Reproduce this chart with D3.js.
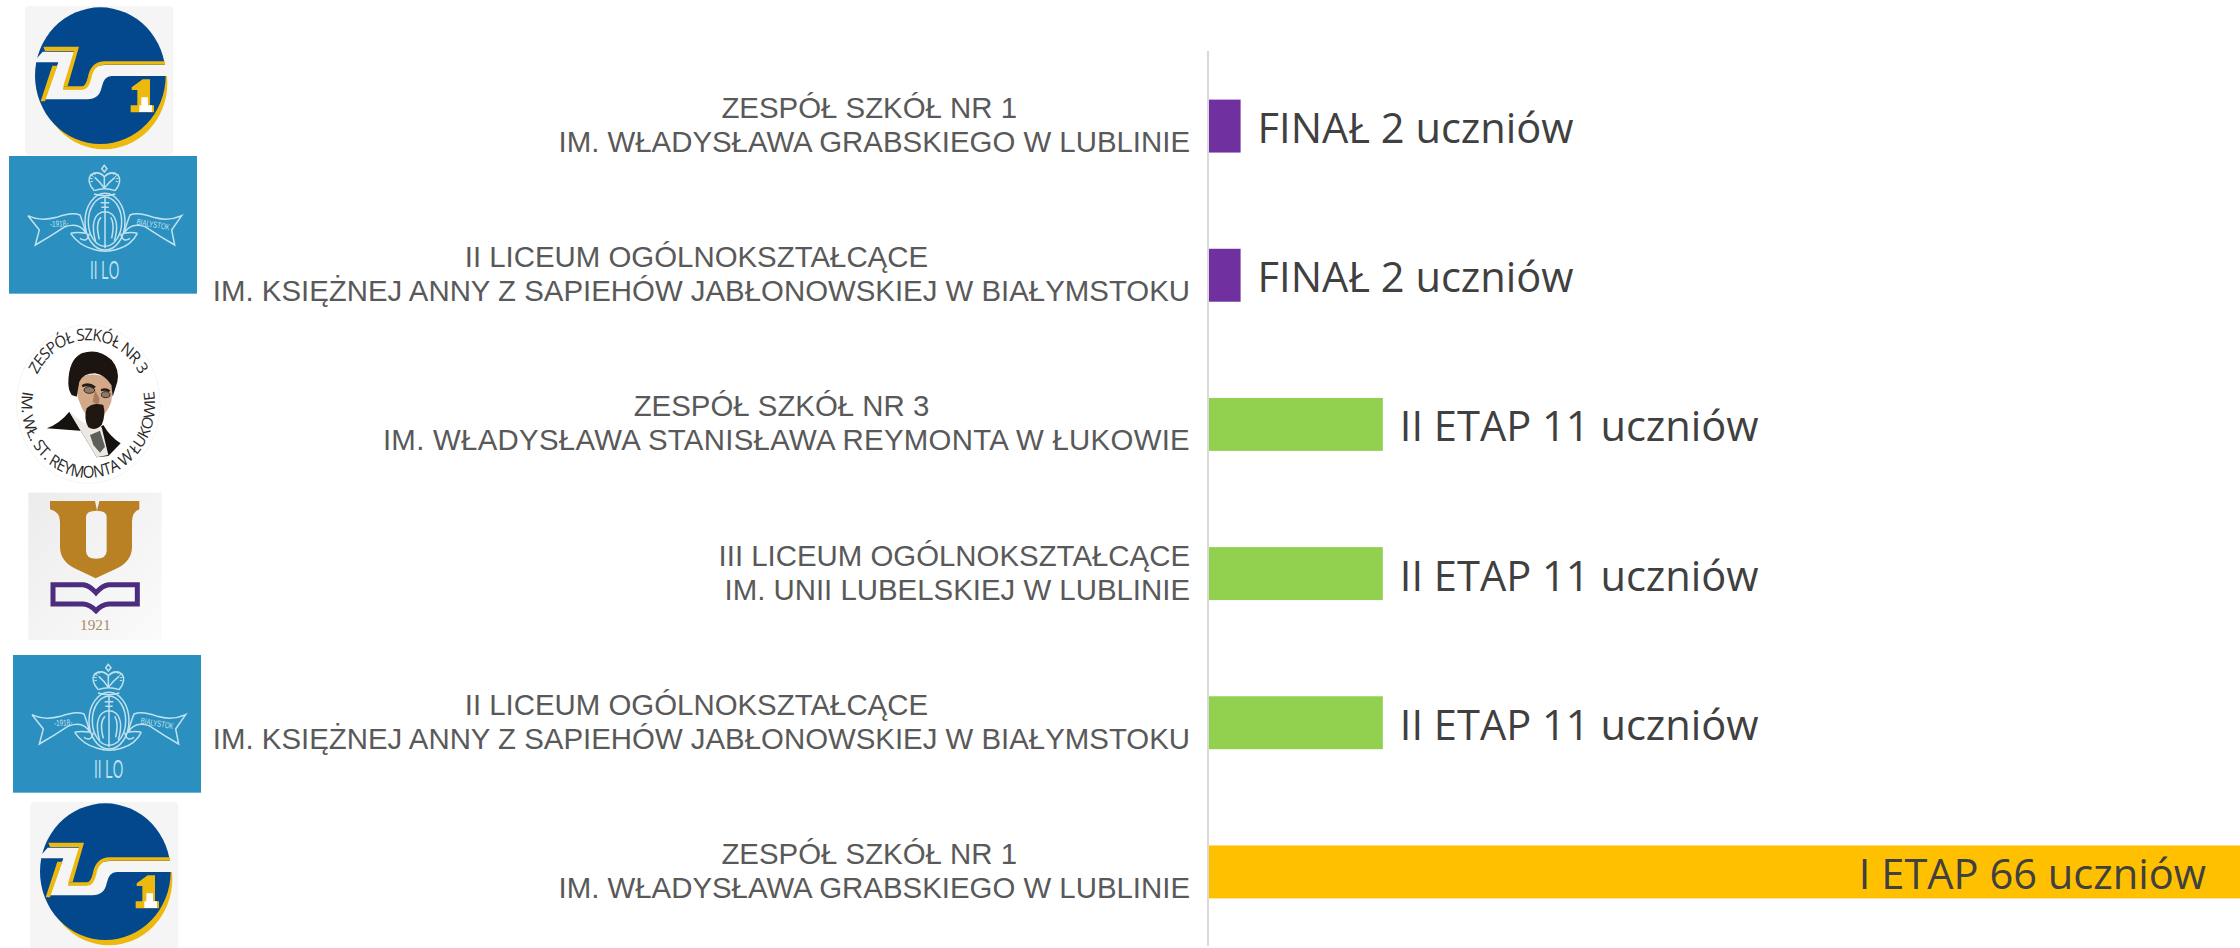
<!DOCTYPE html>
<html><head><meta charset="utf-8">
<script src="https://cdnjs.cloudflare.com/ajax/libs/d3/7.8.5/d3.min.js"></script>
<style>html,body{margin:0;padding:0;background:#fff}svg{display:block}</style>
</head><body><svg id="c" width="2240" height="948"></svg>
<script>
const schoolLine1 = ["ZESPÓŁ SZKÓŁ NR 1","II LICEUM OGÓLNOKSZTAŁCĄCE","ZESPÓŁ SZKÓŁ NR 3","III LICEUM OGÓLNOKSZTAŁCĄCE","II LICEUM OGÓLNOKSZTAŁCĄCE","ZESPÓŁ SZKÓŁ NR 1"];
const schoolLine2 = ["IM. WŁADYSŁAWA GRABSKIEGO W LUBLINIE","IM. KSIĘŻNEJ ANNY Z SAPIEHÓW JABŁONOWSKIEJ W BIAŁYMSTOKU","IM. WŁADYSŁAWA STANISŁAWA REYMONTA W ŁUKOWIE","IM. UNII LUBELSKIEJ W LUBLINIE","IM. KSIĘŻNEJ ANNY Z SAPIEHÓW JABŁONOWSKIEJ W BIAŁYMSTOKU","IM. WŁADYSŁAWA GRABSKIEGO W LUBLINIE"];
const stages = ["FINAŁ","FINAŁ","II ETAP","II ETAP","II ETAP","I ETAP"];
const students = [2,2,11,11,11,66];
const stageColors = {"FINAŁ":"#7030a0","II ETAP":"#92d050","I ETAP":"#ffc000"};
const idx = d3.range(students.length);

const svg = d3.select("#c");
const x = d3.scaleLinear().domain([0,66]).range([1209,2252]);
const y = d3.scaleBand().domain(idx).range([51.5,946.5]).paddingInner(0.645).paddingOuter(0.3225);

svg.append("line").attr("x1",1208).attr("x2",1208).attr("y1",51).attr("y2",946)
  .attr("stroke","#d9d9d9").attr("stroke-width",2);

svg.selectAll("rect.bar").data(idx).join("rect").attr("class","bar")
  .attr("x",x(0)).attr("y",i=>y(i)).attr("width",i=>x(students[i])-x(0)).attr("height",y.bandwidth())
  .attr("fill",i=>stageColors[stages[i]]);

const lab = svg.selectAll("g.lab").data(idx).join("g").attr("class","lab")
  .attr("font-family","'Liberation Sans',Arial,sans-serif").attr("font-size",29.4).attr("fill","#595959");
lab.each(function(i){
  const g=d3.select(this), cy=y(i)+y.bandwidth()/2;
  const t2=g.append("text").attr("x",1190).attr("y",cy+26).attr("text-anchor","end").text(schoolLine2[i]);
  if(i===2) t2.attr("letter-spacing",0.28);
  const w2=t2.node().getComputedTextLength();
  const t1=g.append("text").attr("y",cy-8).text(schoolLine1[i]);
  const w1=t1.node().getComputedTextLength();
  if(w1>=w2) t1.attr("x",1190).attr("text-anchor","end");
  else t1.attr("x",1190-w2/2-5).attr("text-anchor","middle");
});

svg.selectAll("text.val").data(idx).join("text").attr("class","val")
  .attr("font-family","'Open Sans',sans-serif").attr("font-size",41.6).attr("fill","#404040")
  .attr("y",i=>y(i)+y.bandwidth()/2+17)
  .attr("x",i=>students[i]>30 ? x(students[i])-46 : x(students[i])+17)
  .attr("text-anchor",i=>students[i]>30?"end":"start")
  .text(i=>`${stages[i]} ${students[i]} uczniów`);

// ---- school logos (pictures in the reference, redrawn as vector art; drawn at 3x units)
function zs1(dx,dy){
  const g=svg.append("g").attr("transform",`translate(${dx},${dy}) scale(${1/3})`);
  g.append("rect").attr("x",75).attr("y",18).attr("width",445).attr("height",447).attr("rx",14).attr("fill","#f5f5f6");
  g.append("ellipse").attr("cx",312).attr("cy",250).attr("rx",190).attr("ry",198).attr("fill","#eeb90f");
  g.append("ellipse").attr("cx",301).attr("cy",227).attr("rx",196).attr("ry",205).attr("fill","#03478c");
  g.append("path").attr("d","M128,155 H225 L190,268 H240 Q262,268 268,230 Q275,195 315,195 H510 V228 H335 Q312,228 305,262 Q298,298 262,298 H135 L175,187 H100 Z").attr("fill","#f5f5f6");
  g.append("path").attr("d","M130,140 H237 L203,258 H190 L222,153 H135 Z").attr("fill","#eeb90f");
  g.append("path").attr("d","M157,197 H172 L135,304 H122 Z").attr("fill","#eeb90f");
  g.append("path").attr("d","M190,264 H246 Q262,264 269,232 Q277,189 315,189 H495").attr("fill","none").attr("stroke","#eeb90f").attr("stroke-width",11);
  g.append("path").attr("d","M395,262 L428,238 H450 V316 H462 V337 H392 V316 H412 V270 H395Z").attr("fill","#eeb90f");
  g.append("path").attr("d","M424,292 H444 V316 H456 V336 H418 V316 H424Z").attr("fill","#fff");
}
function lo2(dx,dy){
  const g=svg.append("g").attr("transform",`translate(${dx},${dy}) scale(${1/3})`);
  g.append("rect").attr("x",27).attr("y",468).attr("width",564).attr("height",413).attr("fill","#2b8fbf");
  const l=g.append("g").attr("fill","none").attr("stroke","#bfe2ef").attr("stroke-width",4.5);
  l.append("ellipse").attr("cx",315).attr("cy",665).attr("rx",60).attr("ry",85);
  l.append("ellipse").attr("cx",315).attr("cy",665).attr("rx",50).attr("ry",74);
  l.append("path").attr("d","M283,572 Q258,545 272,525 Q295,510 313,530 Q332,510 354,525 Q368,545 345,572");
  l.append("path").attr("d","M283,572 Q314,560 345,572 M284,532 Q300,545 313,565 M345,532 Q328,545 313,565 M313,530 V565 M282,582 Q314,592 346,582 M313,496 L305,506 L313,516 L321,506Z");
  l.append("path").attr("d","M285,520 Q270,530 276,550 M341,520 Q356,530 350,550").attr("stroke-width",8).attr("stroke-dasharray","3 6");
  l.append("path").attr("d","M315,590 V745 M302,608 H328 M304,622 H326 M287,725 Q270,665 295,642 Q315,628 335,642 Q360,665 343,722 M298,718 Q285,670 303,652 M332,652 Q345,670 335,715");
  l.append("path").attr("d","M84,647 Q120,665 170,652 Q215,635 240,645 Q248,665 258,700 Q240,665 195,680 Q150,710 106,735 L118,690 Z");
  l.append("path").attr("d","M545,647 Q505,665 460,652 Q415,635 390,645 Q382,665 372,700 Q392,665 435,680 Q480,710 524,735 L515,690 Z");
  l.append("path").attr("d","M212,700 Q230,695 258,700 M372,700 Q395,695 412,700 M212,700 Q235,735 280,748 Q315,760 352,748 Q395,735 412,700 M240,715 Q262,730 268,700 M390,715 Q368,730 362,700");
  const t=g.append("g").attr("fill","#bfe2ef").attr("font-family","'Liberation Sans',sans-serif").attr("text-anchor","middle");
  t.append("text").attr("transform","translate(178,680) rotate(-3)").attr("font-size",26).attr("textLength",55).attr("lengthAdjust","spacingAndGlyphs").text("-1918-");
  t.append("text").attr("transform","translate(458,682) rotate(10)").attr("font-size",26).attr("textLength",100).attr("lengthAdjust","spacingAndGlyphs").text("BIALYSTOK");
  t.append("text").attr("x",314).attr("y",836).attr("font-size",76).attr("textLength",88).attr("lengthAdjust","spacingAndGlyphs").text("II LO");
}
function reymont(dx,dy){
  const g=svg.append("g").attr("transform",`translate(${dx},${dy}) scale(${1/3})`);
  g.append("ellipse").attr("cx",265).attr("cy",312).attr("rx",215).attr("ry",238).attr("fill","#fff").attr("stroke","#eeeeee").attr("stroke-width",2);
  const defs=g.append("defs");
  defs.append("path").attr("id","rTop").attr("d","M92,312 A173,173 0 0 1 438,312");
  defs.append("path").attr("id","rBot").attr("d","M72,260 A200,200 0 1 0 458,260");
  const t=g.append("g").attr("transform","translate(265,312) scale(1,1.105) translate(-265,-312)")
    .attr("font-family","'Open Sans',sans-serif").attr("font-size",45).attr("fill","#2a2a2a");
  t.append("text").append("textPath").attr("href","#rTop").attr("startOffset",82).attr("textLength",380).attr("lengthAdjust","spacing").text("ZESPÓŁ SZKÓŁ NR 3");
  t.append("text").append("textPath").attr("href","#rBot").attr("startOffset",17).attr("textLength",700).attr("lengthAdjust","spacing").text("IM. WŁ. ST. REYMONTA W ŁUKOWIE");
  const p=g.append("g").attr("transform","translate(120,120)");
  p.append("path").attr("d","M20,265 Q60,250 88,215 L170,352 L205,348 L242,310 Q210,290 190,255 L160,275 Z").attr("fill","#14110e");
  p.append("path").attr("d","M88,215 L130,248 L185,262 L205,345 L170,352 Z").attr("fill","#ece9e4");
  p.append("path").attr("d","M150,285 L180,272 L195,320 L180,338 L160,315Z").attr("fill","#5f5f5a");
  p.append("path").attr("d","M112,120 Q150,90 205,115 Q222,140 214,185 Q200,225 170,240 Q135,235 120,190 Q105,160 112,120Z").attr("fill","#d2a989");
  p.append("path").attr("d","M165,150 L158,185 L172,195 Q180,185 178,175Z").attr("fill","#a97c5e");
  p.append("ellipse").attr("cx",148).attr("cy",150).attr("rx",16).attr("ry",10).attr("fill","#8b7a6a").attr("stroke","#3a2a20").attr("stroke-width",3);
  p.append("ellipse").attr("cx",197).attr("cy",164).attr("rx",13).attr("ry",9).attr("fill","#8b7a6a").attr("stroke","#3a2a20").attr("stroke-width",3);
  p.append("path").attr("d","M125,135 Q145,122 168,140 L160,146 Q145,134 128,142Z M182,148 Q198,140 212,152 L205,156 Q195,150 184,154Z").attr("fill","#2a1d15");
  p.append("path").attr("d","M140,205 Q160,185 190,195 Q198,225 185,255 Q165,275 145,262 Q130,235 140,205Z").attr("fill","#1f1611");
  p.append("path").attr("d","M85,130 Q85,60 125,40 Q175,22 215,60 Q240,90 232,125 L218,170 L214,135 Q195,105 165,100 Q130,100 118,125 L110,170 L95,165 Q85,150 85,130Z").attr("fill","#1c1410");
}
function uLogo(dx,dy){
  const g=svg.append("g").attr("transform",`translate(${dx},${dy}) scale(${1/3})`);
  const grad=svg.append("defs").append("linearGradient").attr("id","uBg").attr("x1",0).attr("y1",0).attr("x2",1).attr("y2",1);
  grad.append("stop").attr("offset",0).attr("stop-color","#ececec");
  grad.append("stop").attr("offset",1).attr("stop-color","#fbfbfb");
  g.append("rect").attr("x",85).attr("y",578).attr("width",400).attr("height",442).attr("fill","url(#uBg)");
  g.append("path").attr("fill-rule","evenodd").attr("fill","#b98024")
   .attr("d","M150,603 H285 L291,632 L298,603 H418 V628 Q396,636 396,665 V740 Q396,785 345,808 L287,835 L230,808 Q180,785 180,740 V665 Q180,636 150,628 Z M258,650 V752 Q258,776 288,776 Q320,776 320,752 V650 Q320,632 290,632 Q258,632 258,650 Z");
  g.append("path").attr("fill","none").attr("stroke","#4b2c7f").attr("stroke-width",15)
   .attr("d","M159,854 H250 Q268,856 288,878 Q308,856 326,854 H412 V912 H326 Q305,914 288,932 Q270,914 250,912 H159 Z");
  g.append("text").attr("x",286).attr("y",990).attr("text-anchor","middle").attr("font-family","'Liberation Serif',serif").attr("font-size",46).attr("fill","#a68c66").text("1921");
}
zs1(0,0); lo2(0,0); reymont(0,300); uLogo(0,300); lo2(4,499); zs1(5,796);
</script></body></html>
